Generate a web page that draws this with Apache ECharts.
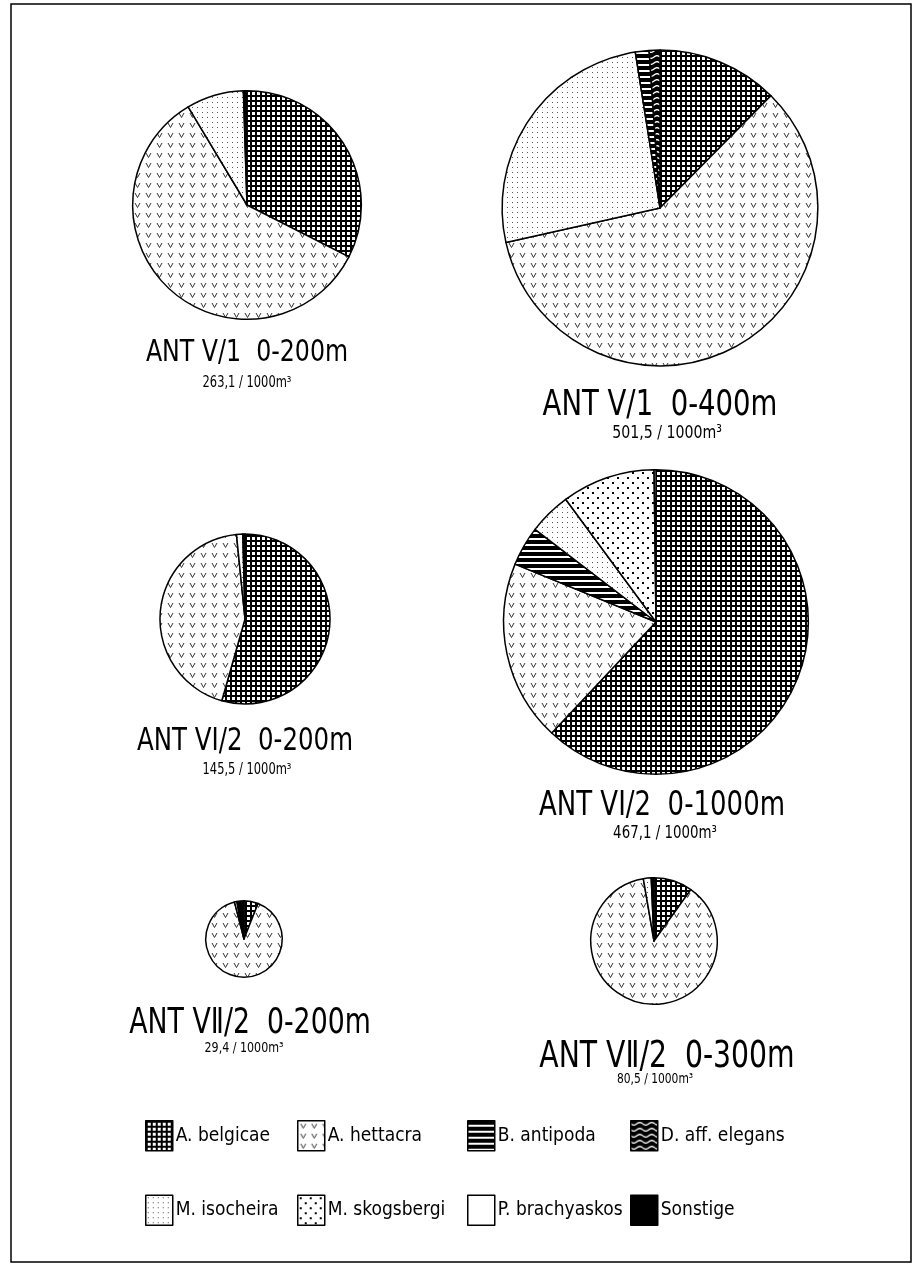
<!DOCTYPE html>
<html>
<head>
<meta charset="utf-8">
<script src="https://cdn.jsdelivr.net/npm/echarts@6/dist/echarts.min.js"></script>
<style>
  html, body { margin: 0; padding: 0; background: #fff; }
  #chart { width: 917px; height: 1274px; }
</style>
</head>
<body>
<div id="chart"></div>
<script>
// Species, in legend order
const species = ['A. belgicae', 'A. hettacra', 'B. antipoda', 'D. aff. elegans',
                 'M. isocheira', 'M. skogsbergi', 'P. brachyaskos', 'Sonstige'];

// Station / depth range of each sample
const sampleTitles = ['ANT V/1  0-200m', 'ANT V/1  0-400m', 'ANT VI/2  0-200m',
                      'ANT VI/2  0-1000m', 'ANT V\u2161/2  0-200m', 'ANT V\u2161/2  0-300m'];

// Total abundance per sample (individuals / 1000 m³)
const totals = [263.1, 501.5, 145.5, 467.1, 29.4, 80.5];

// Composition of each sample, % of total, clockwise from 12 o'clock
const compV1_200 = [['A. belgicae', 32.5], ['A. hettacra', 58.9], ['M. isocheira', 8.1], ['Sonstige', 0.5]];
const compV1_400 = [['A. belgicae', 12.4], ['A. hettacra', 59.1], ['M. isocheira', 26.0],
                    ['B. antipoda', 1.4], ['D. aff. elegans', 1.1]];
const compVI2_200 = [['A. belgicae', 54.4], ['A. hettacra', 44.0], ['M. isocheira', 1.2], ['Sonstige', 0.4]];
const compVI2_1000 = [['A. belgicae', 62.0], ['A. hettacra', 19.2], ['B. antipoda', 4.2],
                      ['M. isocheira', 4.5], ['M. skogsbergi', 9.9], ['P. brachyaskos', 0.2]];
const compVII2_200 = [['A. belgicae', 6.0], ['A. hettacra', 90.0], ['M. isocheira', 1.0], ['Sonstige', 3.0]];
const compVII2_300 = [['A. belgicae', 9.9], ['A. hettacra', 87.4], ['M. isocheira', 2.0], ['Sonstige', 0.7]];

const compositions = [compV1_200, compV1_400, compVI2_200, compVI2_1000, compVII2_200, compVII2_300];

// ---- layout ----
const pieCenters = [[247, 205], [660, 208], [245, 619], [656, 622], [244, 939], [654, 941]];
const radiusScale = 7.05;           // pie area proportional to total abundance
const titlePos = [[247, 353], [660, 406], [245, 742], [662, 806], [250, 1024], [667, 1057]];
const titleSize = [31, 36, 32, 34, 35, 37];
const subPos   = [[247, 383], [667, 433], [247, 770], [665, 833], [244, 1048], [655, 1079]];
const subSize  = [15, 18.5, 15, 17.5, 14.5, 14];

const FONT = "'Liberation Sans Narrow', 'DejaVu Sans Condensed', 'Roboto Condensed', 'Liberation Sans', sans-serif";

// ---- fill patterns ----
function tile(w, h, draw) {
  const c = document.createElement('canvas');
  c.width = w; c.height = h;
  const g = c.getContext('2d');
  g.fillStyle = '#fff';
  g.fillRect(0, 0, w, h);
  draw(g, w, h);
  return { image: c, repeat: 'repeat' };
}

const fills = {
  'A. belgicae': tile(5, 5, g => {
    g.fillStyle = '#000';
    g.fillRect(0, 0, 5, 2);
    g.fillRect(0, 0, 2, 5);
  }),
  'A. hettacra': tile(11, 10, g => {
    g.strokeStyle = '#333';
    g.lineWidth = 1;
    g.beginPath();
    g.moveTo(3, 3); g.lineTo(5.5, 7.5); g.lineTo(8, 3);
    g.stroke();
  }),
  'B. antipoda': tile(6, 6, g => {
    g.fillStyle = '#000';
    g.fillRect(0, 0, 6, 4);
  }),
  'D. aff. elegans': tile(12, 6, g => {
    g.fillStyle = '#000';
    g.fillRect(0, 0, 12, 6);
    g.strokeStyle = '#fff';
    g.lineWidth = 1.3;
    g.beginPath();
    for (let x = 0; x <= 12; x += 0.5) {
      const y = 3 + 1.3 * Math.sin(x / 12 * Math.PI * 2);
      if (x === 0) g.moveTo(x, y); else g.lineTo(x, y);
    }
    g.stroke();
  }),
  'M. isocheira': tile(5, 5, g => {
    g.fillStyle = '#555';
    g.fillRect(2, 2, 1, 1);
  }),
  'M. skogsbergi': tile(10, 10, g => {
    g.fillStyle = '#000';
    g.fillRect(2, 2, 2, 2);
    g.fillRect(7, 7, 2, 2);
  }),
  'P. brachyaskos': '#ffffff',
  'Sonstige': '#000000'
};

// ---- series ----
const series = compositions.map((comp, i) => ({
  type: 'pie',
  name: sampleTitles[i],
  center: pieCenters[i],
  radius: [0, radiusScale * Math.sqrt(totals[i])],
  startAngle: 90,
  clockwise: true,
  animation: false,
  silent: true,
  label: { show: false },
  labelLine: { show: false },
  emphasis: { disabled: true },
  itemStyle: { borderColor: '#000', borderWidth: 1.5 },
  data: comp.map(([name, value]) => ({
    name, value,
    itemStyle: { color: fills[name] }
  }))
}));

// ---- legend: four columns of two entries ----
const legendColumns = [
  ['A. belgicae', 'M. isocheira'],
  ['A. hettacra', 'M. skogsbergi'],
  ['B. antipoda', 'P. brachyaskos'],
  ['D. aff. elegans', 'Sonstige']
];
const legendLeft = [145, 297, 467, 630];
const legends = legendColumns.map((col, i) => ({
  data: col,
  orient: 'vertical',
  left: legendLeft[i],
  top: 1120,
  padding: 0,
  itemGap: 43,
  itemWidth: 27,
  itemHeight: 30,
  icon: 'rect',
  selectedMode: false,
  itemStyle: { borderColor: '#000', borderWidth: 1.5 },
  textStyle: { fontFamily: FONT, fontSize: 19, color: '#000', padding: [0, 0, 0, -2] }
}));

// ---- titles and totals (narrow lettering) ----
const texts = [];
sampleTitles.forEach((t, i) => {
  texts.push({
    type: 'text', x: titlePos[i][0], y: titlePos[i][1], scaleX: 0.85, silent: true,
    style: { text: t, font: `${titleSize[i]}px ${FONT}`, fill: '#000', textAlign: 'center', textVerticalAlign: 'middle' }
  });
  texts.push({
    type: 'text', x: subPos[i][0], y: subPos[i][1], scaleX: 0.85, silent: true,
    style: { text: totals[i].toFixed(1).replace('.', ',') + ' / 1000m\u00B3', font: `${subSize[i]}px ${FONT}`,
             fill: '#000', textAlign: 'center', textVerticalAlign: 'middle' }
  });
});

const chart = echarts.init(document.getElementById('chart'), null, { renderer: 'canvas' });
chart.setOption({
  backgroundColor: '#fff',
  animation: false,
  legend: legends,
  series: series,
  graphic: [
    { type: 'rect', silent: true, shape: { x: 11, y: 4, width: 900, height: 1258 },
      style: { fill: 'none', stroke: '#000', lineWidth: 1.5 } },
    ...texts
  ]
});
</script>
</body>
</html>
